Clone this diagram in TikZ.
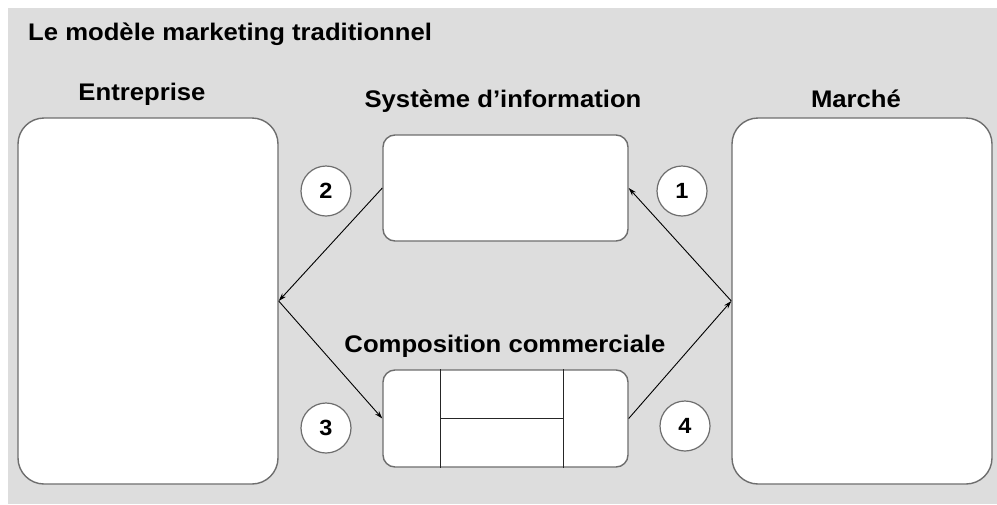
\documentclass[tikz,border=0pt]{standalone}
\usepackage{fontspec}
\setmainfont{Liberation Sans}[FakeStretch=1.07]
\usetikzlibrary{arrows.meta}
\definecolor{bggray}{HTML}{DDDDDD}
\definecolor{edgegray}{HTML}{6E6E6E}
\tikzset{
  bigbox/.style={draw=edgegray, line width=1.4pt, fill=white, rounded corners=26pt, minimum width=260pt, minimum height=366pt, inner sep=0pt},
  smallbox/.style={draw=edgegray, line width=1.4pt, fill=white, rounded corners=12pt, minimum width=245pt, inner sep=0pt},
  numcircle/.style={circle, draw=edgegray, line width=1.2pt, fill=white, minimum size=50pt, inner sep=0pt, font=\fontsize{22}{26}\selectfont\bfseries},
  label/.style={inner sep=0pt, font=\fontsize{24}{28}\selectfont\bfseries},
  flow/.style={draw=black, line width=0.9pt, -{Stealth[length=8pt,width=5pt]}},
  divider/.style={draw=black!85, line width=1.2pt}
}
\begin{document}
\begin{tikzpicture}[x=1pt,y=-1pt]
\useasboundingbox (0,0) rectangle (997,504);
\fill[white] (0,0) rectangle (997,504);
\fill[bggray] (8,8) rectangle (997,504);

\node[label, anchor=base west] (title) at (28,40) {Le modèle marketing traditionnel};
\node[label, anchor=base] (lent) at (142,100) {Entreprise};
\node[label, anchor=base] (lsys) at (503,107) {Système d’information};
\node[label, anchor=base] (lmar) at (856,107) {Marché};
\node[label, anchor=base] (lcomp) at (505,352) {Composition commerciale};

\node[bigbox] (ent) at (148,301) {};
\node[bigbox] (mar) at (862,301) {};
\node[smallbox, minimum height=106pt] (sys) at (505.5,188) {};
\node[smallbox, minimum height=97pt] (comp) at (505.5,418.5) {};

\coordinate (ca) at ([xshift=58pt]comp.north west);
\coordinate (cb) at ([xshift=58pt]comp.south west);
\coordinate (cc) at ([xshift=-65pt]comp.north east);
\coordinate (cd) at ([xshift=-65pt]comp.south east);
\coordinate (ce) at ([xshift=58pt]comp.west);
\coordinate (cf) at ([xshift=-65pt]comp.east);
\draw[divider] (ca) -- (cb);
\draw[divider] (cc) -- (cd);
\draw[divider] (ce) -- (cf);

\node[numcircle] (n2) at (326,191) {2};
\node[numcircle] (n1) at (682,191) {1};
\node[numcircle] (n3) at (326,428) {3};
\node[numcircle] (n4) at (685,426) {4};

\draw[flow] (sys.west) -- (ent.east);
\draw[flow] (mar.west) -- (sys.east);
\draw[flow] (ent.east) -- (comp.west);
\draw[flow] (comp.east) -- (mar.west);
\end{tikzpicture}
\end{document}
